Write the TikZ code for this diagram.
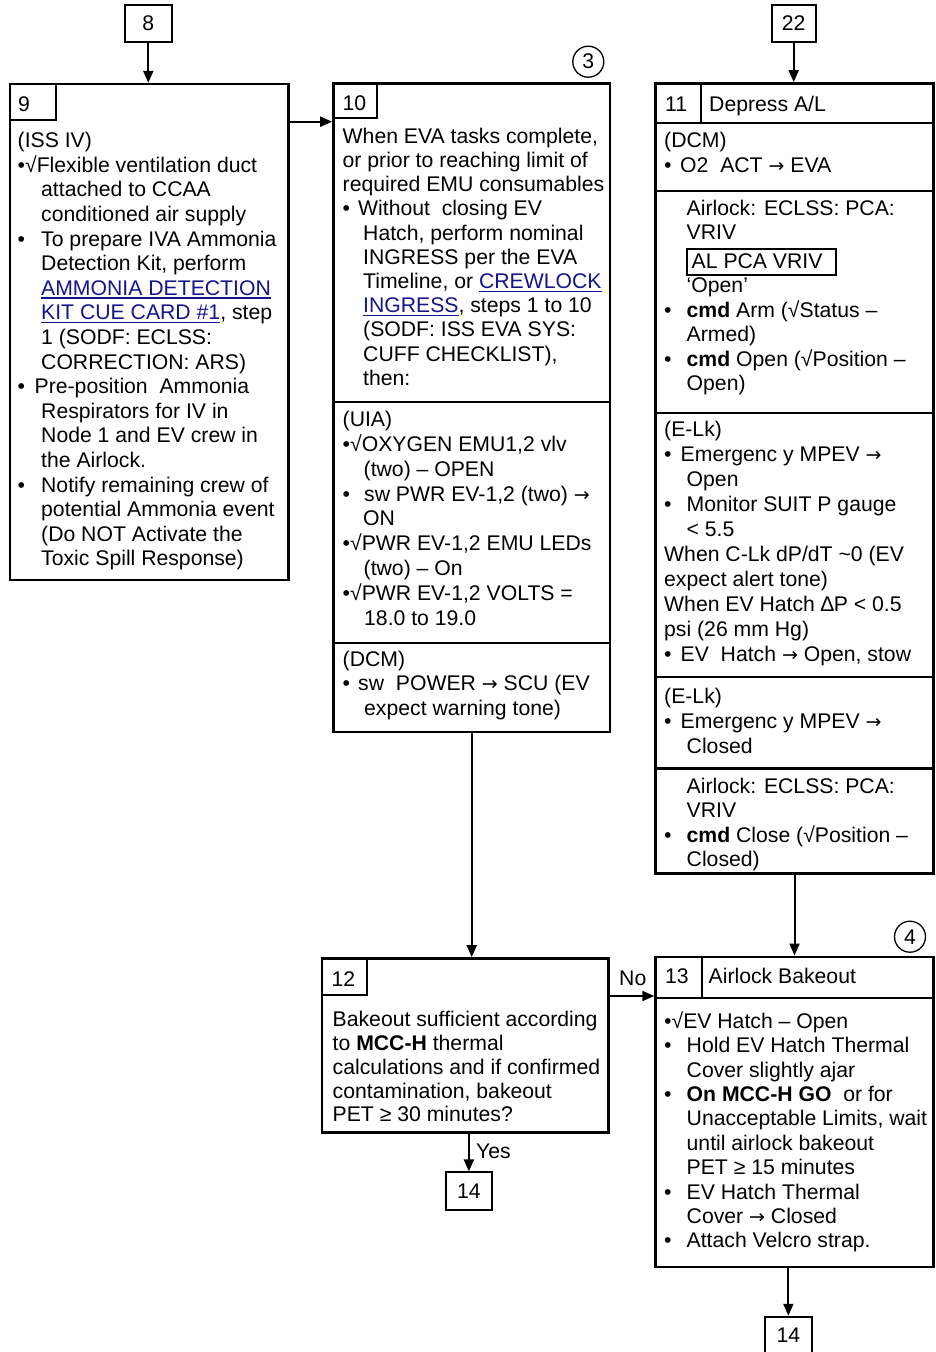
\documentclass[tikz,border=0pt]{standalone}
\usepackage{fontspec}
\setmainfont{Liberation Sans}
\newfontfamily\dejavu{DejaVu Sans}
\usetikzlibrary{arrows.meta}
\definecolor{linkc}{RGB}{20,20,140}
\newcommand{\Ln}[1]{\hbox{#1}}
\newcommand{\Bu}[2]{\hbox{\makebox[#1pt][l]{•}#2}}
\newcommand{\Ind}[2]{\hbox{\hspace*{#1pt}#2}}
\newcommand{\TB}[2]{\vtop{\baselineskip=#1pt\lineskiplimit=-30pt\lineskip=0pt\relax #2}}
\newcommand{\lk}[1]{\textcolor{linkc}{\setbox0=\hbox{#1}\rlap{\rule[-3.5pt]{\wd0}{1.4pt}}\box0}}
\newcommand{\RA}{{\dejavu\fontsize{19}{19}\selectfont →}}
\tikzset{
  box/.style={draw, rectangle, line width=2.4pt, inner sep=0pt, font=\fontsize{21.2}{24.5}\selectfont},
  smallbox/.style={box, line width=2pt},
  tx/.style={anchor=base west, inner sep=0pt, font=\fontsize{21.2}{24.5}\selectfont},
  div/.style={line width=2.4pt},
  cell/.style={line width=1.7pt},
  arr/.style={line width=2pt, -{Triangle[length=12pt,width=10pt]}},
  conn/.style={circle, draw, line width=1.3pt, minimum size=31pt, inner sep=0pt, font=\fontsize{21.2}{24.5}\selectfont},
}
\begin{document}
\begin{tikzpicture}[x=1pt,y=-1pt]
\useasboundingbox (0,0) rectangle (935,1352);

% ---------- boxes ----------
\node[smallbox, minimum width=46.7pt, minimum height=37.7pt] (b8) at (148.3,23.6) {8};
\node[smallbox, minimum width=44pt, minimum height=36.7pt] (b22) at (793.7,23.4) {22};
\node[box, minimum width=278.3pt, minimum height=496pt] (b9) at (149.2,332) {};
\node[box, minimum width=276.7pt, minimum height=648.2pt] (b10) at (471.7,407.6) {};
\node[box, minimum width=278pt, minimum height=790pt] (b11) at (794.5,478.3) {};
\node[box, minimum width=286.6pt, minimum height=174pt] (b12) at (465,1045.3) {};
\node[box, minimum width=278pt, minimum height=310pt] (b13) at (794.5,1111.7) {};
\node[smallbox, minimum width=45.7pt, minimum height=37.7pt] (b14l) at (468.85,1191.2) {14};
\node[smallbox, minimum width=46.7pt, minimum height=37.7pt] (b14r) at (788.35,1335.6) {14};

\node[conn] (c3) at (588.3,61.7) {3};
\node[conn] (c4) at (910,936.7) {4};

% ---------- cells and dividers ----------
\draw[cell] (55.7,84) -- (55.7,120) -- (10,120);
\draw[cell] (377.3,83.5) -- (377.3,118.3) -- (333.3,118.3);
\draw[div] (333.3,401.7) -- (610,401.7);
\draw[div] (333.3,642.7) -- (610,642.7);
\draw[cell] (701,83.3) -- (701,122.7);
\draw[div] (655.5,122.7) -- (933.5,122.7);
\draw[div] (655.5,190.7) -- (933.5,190.7);
\draw[div] (655.5,412.7) -- (933.5,412.7);
\draw[div] (655.5,676.7) -- (933.5,676.7);
\draw[div] (655.5,768.3) -- (933.5,768.3);
\draw[line width=1.7pt] (686.7,249.3) rectangle (836,275);
\draw[cell] (366.7,958.3) -- (366.7,995) -- (321.7,995);
\draw[cell] (701.7,956.7) -- (701.7,997.7);
\draw[div] (655.5,997.7) -- (933.5,997.7);

% ---------- connectors ----------
\coordinate (y910) at (0,121.7);
\coordinate (yno) at (0,996);
\draw[arr] (b8.south) -- (b8.south |- b9.north);
\draw[arr] (b22.south) -- (b22.south |- b11.north);
\draw[arr] (b9.east |- y910) -- (b10.west |- y910);
\draw[arr] (b10.south) -- (b10.south |- b12.north);
\draw[arr] (b11.south) -- (b13.north);
\draw[arr] (b12.east |- yno) -- (b13.west |- yno);
\draw[arr] (b14l.north |- b12.south) -- (b14l.north);
\draw[arr] (b14r.north |- b13.south) -- (b14r.north);
\node[tx] (lno) at (619,985) {No};
\node[tx] (lyes) at (476,1158) {Yes};

% ---------- box 9 ----------
\node[tx] (n9) at (18,111) {9};
\node[tx] (t9) at (17.5,147.7) {\TB{24.6}{%
\Ln{(ISS IV)}%
\Ln{•√Flexible ventilation duct}%
\Ind{23.5}{attached to CCAA}%
\Ind{23.5}{conditioned air supply}%
\Bu{23.5}{To prepare IVA Ammonia}%
\Ind{23.5}{Detection Kit, perform}%
\Ind{23.5}{\lk{AMMONIA DETECTION}}%
\Ind{23.5}{\lk{KIT CUE CARD \#1}, step}%
\Ind{23.5}{1 (SODF: ECLSS:}%
\Ind{23.5}{CORRECTION: ARS)}%
\Bu{17}{Pre-position\ \ Ammonia}%
\Ind{23.5}{Respirators for IV in}%
\Ind{23.5}{Node 1 and EV crew in}%
\Ind{23.5}{the Airlock.}%
\Bu{23.5}{Notify remaining crew of}%
\Ind{23.5}{potential Ammonia event}%
\Ind{23.5}{(Do NOT Activate the}%
\Ind{23.5}{Toxic Spill Response)}}};

% ---------- box 10 ----------
\node[tx] (n10) at (342.5,110) {10};
\node[tx] (t10a) at (342.5,143.3) {\TB{24.2}{%
\Ln{When EVA tasks complete,}%
\Ln{or prior to reaching limit of}%
\Ln{required EMU consumables}%
\Bu{15.5}{Without\ \ closing EV}%
\Ind{20.5}{Hatch, perform nominal}%
\Ind{20.5}{INGRESS per the EVA}%
\Ind{20.5}{Timeline, or \lk{CREWLOCK}}%
\Ind{20.5}{\lk{INGRESS}, steps 1 to 10}%
\Ind{20.5}{(SODF: ISS EVA SYS:}%
\Ind{20.5}{CUFF CHECKLIST),}%
\Ind{20.5}{then:}}};
\node[tx] (t10b) at (342.5,426.7) {\TB{24.8}{%
\Ln{(UIA)}%
\Ln{•√OXYGEN EMU1,2 vlv}%
\Ind{21}{(two) – OPEN}%
\Bu{21.5}{sw PWR EV-1,2 (two) \RA}%
\Ind{20.5}{ON}%
\Ln{•√PWR EV-1,2 EMU LEDs}%
\Ind{21}{(two) – On}%
\Ln{•√PWR EV-1,2 VOLTS =}%
\Ind{21.5}{18.0 to 19.0}}};
\node[tx] (t10c) at (342.5,666.7) {\TB{24.2}{%
\Ln{(DCM)}%
\Bu{15.5}{sw\ \ POWER \RA\ SCU (EV}%
\Ind{21.5}{expect warning tone)}}};

% ---------- box 11 ----------
\node[tx] (n11) at (665,111.7) {11};
\node[tx] (h11) at (709,111.7) {Depress A/L};
\node[tx] (t11a) at (664,147.5) {\TB{25}{%
\Ln{(DCM)}%
\Bu{16}{O2\ \ ACT \RA\ EVA}}};
\node[tx] (t11b) at (686.5,215.5) {\TB{23.8}{%
\Ln{Airlock: ECLSS: PCA:}%
\Ln{VRIV}}};
\node[tx] (t11al) at (691.5,268.5) {AL PCA VRIV};
\node[tx] (t11c) at (664,292.5) {\TB{24.6}{%
\Ind{22.5}{‘Open’}%
\Bu{22.5}{\textbf{cmd} Arm (√Status –}%
\Ind{22.5}{Armed)}%
\Bu{22.5}{\textbf{cmd} Open (√Position –}%
\Ind{22.5}{Open)}}};
\node[tx] (t11d) at (664,436.7) {\TB{25}{%
\Ln{(E-Lk)}%
\Bu{16.5}{Emergenc y MPEV \RA}%
\Ind{22.5}{Open}%
\Bu{22.5}{Monitor SUIT P gauge}%
\Ind{22.5}{< 5.5}%
\Ln{When C-Lk dP/dT \textasciitilde0 (EV}%
\Ln{expect alert tone)}%
\Ln{When EV Hatch ∆P < 0.5}%
\Ln{psi (26 mm Hg)}%
\Bu{16.5}{EV\ \ Hatch \RA\ Open, stow}}};
\node[tx] (t11e) at (664,703.3) {\TB{25}{%
\Ln{(E-Lk)}%
\Bu{16.5}{Emergenc y MPEV \RA}%
\Ind{22.5}{Closed}}};
\node[tx] (t11f) at (664,793.3) {\TB{24.5}{%
\Ind{22.5}{Airlock: ECLSS: PCA:}%
\Ind{22.5}{VRIV}%
\Bu{22.5}{\textbf{cmd} Close (√Position –}%
\Ind{22.5}{Closed)}}};

% ---------- box 12 ----------
\node[tx] (n12) at (331.5,986) {12};
\node[tx] (t12) at (332.5,1026.7) {\TB{23.8}{%
\Ln{Bakeout sufficient according}%
\Ln{to \textbf{MCC-H} thermal}%
\Ln{calculations and if confirmed}%
\Ln{contamination, bakeout}%
\Ln{PET ≥ 30 minutes?}}};

% ---------- box 13 ----------
\node[tx] (n13) at (665,983.3) {13};
\node[tx] (h13) at (708.5,983.3) {Airlock Bakeout};
\node[tx] (t13) at (664,1028.3) {\TB{24.4}{%
\Ln{•√EV Hatch – Open}%
\Bu{22.5}{Hold EV Hatch Thermal}%
\Ind{22.5}{Cover slightly ajar}%
\Bu{22.5}{\textbf{On MCC-H GO}\ \ or for}%
\Ind{22.5}{Unacceptable Limits, wait}%
\Ind{22.5}{until airlock bakeout}%
\Ind{22.5}{PET ≥ 15 minutes}%
\Bu{22.5}{EV Hatch Thermal}%
\Ind{22.5}{Cover \RA\ Closed}%
\Bu{22.5}{Attach Velcro strap.}}};
\end{tikzpicture}
\end{document}
